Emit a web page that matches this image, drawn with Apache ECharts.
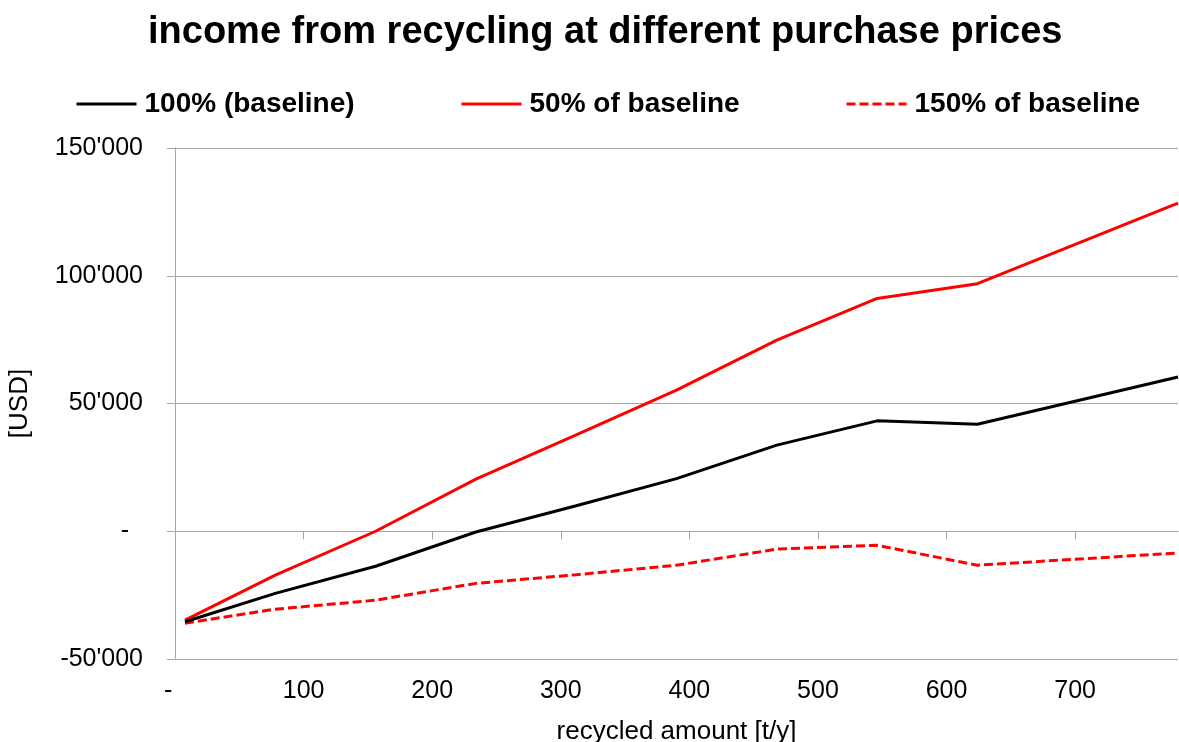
<!DOCTYPE html>
<html>
<head>
<meta charset="utf-8">
<script src="https://cdn.jsdelivr.net/npm/echarts@6/dist/echarts.min.js"></script>
<style>
  html, body { margin: 0; padding: 0; background: #fff; }
  #chart { width: 1179px; height: 742px; }
</style>
</head>
<body>
<div id="chart"></div>
<script>
// Recycled amount [t/y] at each scenario step
const amounts = [7.8, 78, 156, 234, 312, 390, 468, 546, 624, 780];
// Net income [USD] per purchase-price scenario
const baseline100 = [-35400, -24300, -13700, -300, 10000, 20600, 33700, 43200, 41900, 60400];
const baseline50 = [-34800, -17200, 0, 20400, 37700, 55200, 74800, 91100, 96900, 128400];
const baseline150 = [-36000, -30500, -27000, -20400, -17000, -13300, -7000, -5500, -13300, -8500];
// Axis ticks
const xTicks = [0, 100, 200, 300, 400, 500, 600, 700];
const seriesNames = ['100% (baseline)', '50% of baseline', '150% of baseline'];

const FONT = '"Liberation Sans", Arial, sans-serif';
const GRAY = '#a6a6a6';

function thousands(v) {
  if (v === 0) return '-  ';
  const s = String(Math.abs(v)).replace(/\B(?=(\d{3})+(?!\d))/g, "'");
  return (v < 0 ? '-' : '') + s;
}

function pairs(ys) {
  return amounts.map((x, i) => [x, ys[i]]);
}

function legendAt(left, name) {
  return {
    left: left, top: 90, padding: 0,
    data: [name],
    itemWidth: 60, itemHeight: 14, itemGap: 0,
    // plain line key, no marker dot
    itemStyle: { color: 'transparent', borderColor: 'transparent', borderWidth: 0, opacity: 0 },
    lineStyle: { width: 3 },
    textStyle: { fontFamily: FONT, fontSize: 28, fontWeight: 'bold', color: '#000', padding: [0, 0, 0, 3] },
    selectedMode: false
  };
}

const chart = echarts.init(document.getElementById('chart'), null, { renderer: 'canvas' });
chart.setOption({
  animation: false,
  backgroundColor: '#fff',
  title: {
    text: 'income from recycling at different purchase prices',
    left: 143, top: 9,
    textStyle: { fontFamily: FONT, fontSize: 38, fontWeight: 'bold', color: '#000' }
  },
  legend: [
    legendAt(75, seriesNames[0]),
    legendAt(460, seriesNames[1]),
    legendAt(845, seriesNames[2])
  ],
  grid: { left: 175, right: 1, top: 148, bottom: 83, outerBoundsMode: 'none' },
  xAxis: {
    type: 'value', min: 0, max: 780, interval: 100,
    name: 'recycled amount [t/y]', nameLocation: 'middle', nameGap: 60,
    nameTextStyle: { fontFamily: FONT, fontSize: 26, color: '#000' },
    axisLine: { show: true, lineStyle: { color: GRAY, width: 1 } },
    axisTick: { show: true, length: 8, lineStyle: { color: GRAY }, customValues: xTicks },
    axisLabel: {
      customValues: xTicks, margin: 20,
      fontFamily: FONT, fontSize: 25, color: '#000',
      formatter: v => v === 0 ? '-  ' : String(v)
    },
    splitLine: { show: false }
  },
  yAxis: {
    type: 'value', min: -50000, max: 150000, interval: 50000,
    name: '[USD]', nameLocation: 'middle', nameGap: 142, nameRotate: 90,
    nameTextStyle: { fontFamily: FONT, fontSize: 26, color: '#000' },
    axisLine: { show: true, lineStyle: { color: GRAY, width: 1 } },
    axisTick: { show: true, length: 8, lineStyle: { color: GRAY } },
    axisLabel: {
      margin: 32, padding: [5, 0, 0, 0],
      fontFamily: FONT, fontSize: 25, color: '#000', formatter: thousands
    },
    splitLine: { show: true, lineStyle: { color: GRAY, width: 1 } }
  },
  series: [
    {
      name: seriesNames[0], type: 'line', data: pairs(baseline100),
      symbol: 'none', color: '#000',
      lineStyle: { color: '#000', width: 3 }, z: 3
    },
    {
      name: seriesNames[1], type: 'line', data: pairs(baseline50),
      symbol: 'none', color: '#ff0000',
      lineStyle: { color: '#ff0000', width: 3 }, z: 2
    },
    {
      name: seriesNames[2], type: 'line', data: pairs(baseline150),
      symbol: 'none', color: '#ff0000',
      lineStyle: { color: '#ff0000', width: 3, type: [9, 4] }, z: 2
    }
  ]
});
</script>
</body>
</html>
